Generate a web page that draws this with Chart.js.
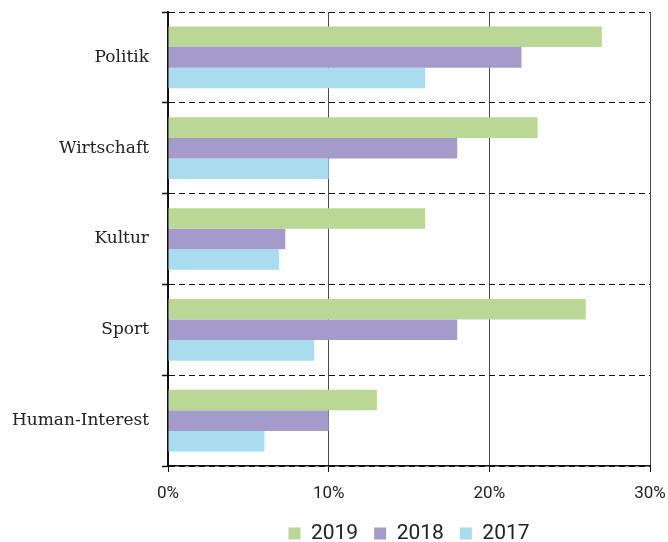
<!DOCTYPE html>
<html>
<head>
<meta charset="utf-8">
<script src="https://cdn.jsdelivr.net/npm/chart.js@4"></script>
<style>
  html, body { margin: 0; padding: 0; background: #fff; overflow: hidden; }
  #wrap { width: 668px; height: 554px; }
</style>
</head>
<body>
<div id="wrap"><canvas id="chart"></canvas></div>
<script>
// ---- Data ----
const CATEGORIES = ["Politik", "Wirtschaft", "Kultur", "Sport", "Human-Interest"];
const SERIES_2019 = [27, 23, 16, 26, 13];
const SERIES_2018 = [22, 18, 7.3, 18, 10];
const SERIES_2017 = [16, 10, 6.9, 9.1, 6];
const X_TICKS = [0, 10, 20, 30];

const COLORS = { y2019: "#bad796", y2018: "#a49bcb", y2017: "#a8dcee" };

const ctx = document.getElementById("chart").getContext("2d");
new Chart(ctx, {
  type: "bar",
  data: {
    labels: CATEGORIES,
    datasets: [
      { label: "2019", data: SERIES_2019, backgroundColor: COLORS.y2019 },
      { label: "2018", data: SERIES_2018, backgroundColor: COLORS.y2018 },
      { label: "2017", data: SERIES_2017, backgroundColor: COLORS.y2017 }
    ]
  },
  options: {
    indexAxis: "y",
    responsive: true,
    maintainAspectRatio: false,
    animation: false,
    categoryPercentage: 0.68,
    barPercentage: 1.0,
    layout: { padding: { top: 12, right: 18, left: 0, bottom: 0 } },
    plugins: {
      tooltip: { enabled: false },
      legend: {
        position: "bottom",
        fullSize: false,
        labels: {
          boxWidth: 12,
          boxHeight: 12,
          padding: 16,
          color: "#222",
          font: { family: "Roboto", size: 21 }
        }
      }
    },
    scales: {
      x: {
        min: 0,
        max: 30,
        afterBuildTicks: s => { s.ticks = X_TICKS.map(v => ({ value: v })); },
        afterFit: s => { s.height = 41; s.paddingLeft = 0; s.paddingRight = 0; },
        ticks: {
          callback: v => v + "%",
          color: "#222",
          padding: 12,
          maxRotation: 0,
          font: { family: "Roboto", size: 17 }
        },
        grid: {
          color: "#4a4a4a",
          lineWidth: 1,
          tickLength: 6,
          tickColor: "#111"
        },
        border: { color: "#111", width: 1.5 }
      },
      y: {
        afterFit: s => { s.width = 168; s.paddingTop = 0; s.paddingBottom = 0; },
        ticks: {
          color: "#222",
          padding: 13,
          font: { family: "DejaVu Serif", size: 17 }
        },
        grid: {
          offset: true,
          color: "#111",
          lineWidth: 1,
          tickLength: 6,
          tickColor: "#111",
          tickWidth: 1.5,
          tickBorderDash: []
        },
        border: { color: "#111", width: 2, dash: [6, 4] }
      }
    }
  }
});
</script>
</body>
</html>
